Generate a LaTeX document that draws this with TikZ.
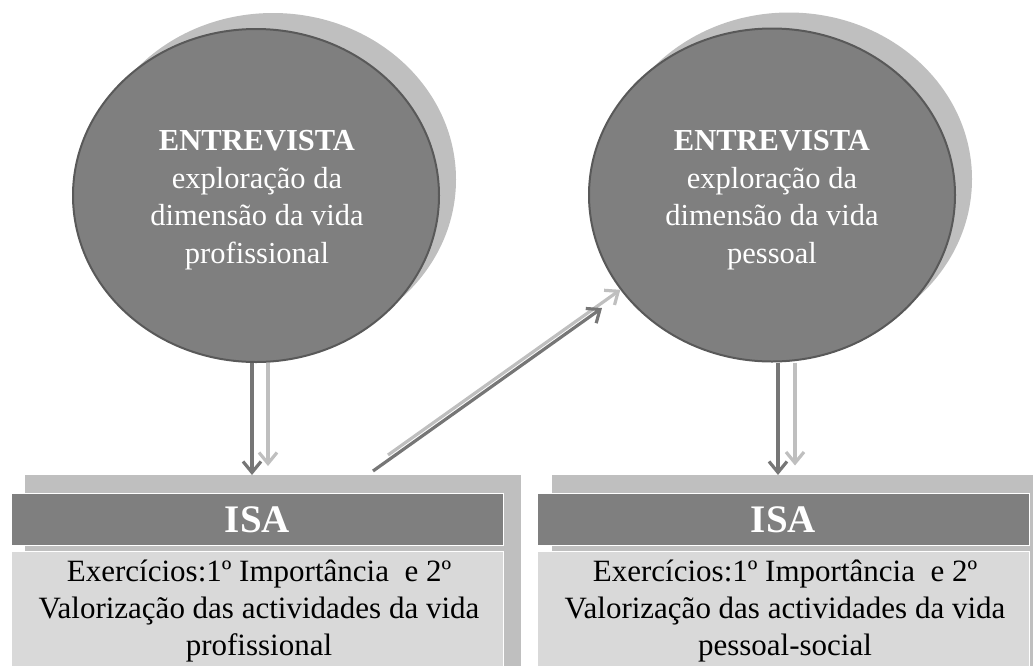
\documentclass[tikz,border=0pt]{standalone}
\usepackage{fontspec}
\setmainfont{Liberation Serif}
\usetikzlibrary{shapes.geometric,arrows.meta}
\definecolor{dk}{HTML}{7F7F7F}
\definecolor{dkline}{HTML}{595959}
\definecolor{sh}{HTML}{BFBFBF}
\definecolor{lt}{HTML}{D9D9D9}
\definecolor{arrdk}{HTML}{767676}
\begin{document}
\begin{tikzpicture}[x=1pt,y=-1pt,
  circsh/.style={ellipse, fill=sh, minimum width=366pt, minimum height=333pt, inner sep=0pt},
  circ/.style={ellipse, fill=dk, draw=dkline, line width=2pt, minimum width=366pt, minimum height=333pt, inner sep=0pt},
  circtxt/.style={text=white, align=center, inner sep=0pt, font=\fontsize{30.5}{37.5}\selectfont},
  boxsh/.style={rectangle, fill=sh, anchor=north west, minimum width=496pt, minimum height=200pt, inner sep=0pt},
  head/.style={rectangle, fill=dk, draw=white, line width=1pt, anchor=north west, minimum width=492pt,
    minimum height=52pt, inner sep=0pt, text=white, font=\fontsize{39}{42}\selectfont\bfseries},
  body/.style={rectangle, fill=lt, draw=white, line width=1pt, anchor=north west, minimum width=492pt,
    minimum height=130pt, inner sep=0pt},
  bodytxt/.style={align=center, inner sep=0pt, font=\fontsize{31}{37}\selectfont},
  darr/.style={draw=arrdk, line width=3.2pt, -{Straight Barb[length=11pt,width=18pt]}},
  larr/.style={draw=sh, line width=3.2pt, -{Straight Barb[length=11pt,width=18pt]}}
]
\useasboundingbox (0,0) rectangle (1033,665);
% ellipses
\node[circsh] (e1s) at (273,179.5) {};
\node[circ] (e1) at (256,195.5) {};
\node[circtxt] (c1) at (257,200) {\textbf{ENTREVISTA}\\explora\c{c}\~ao da\\dimens\~ao da vida\\profissional};
\node[circsh] (e2s) at (789,179) {};
\node[circ] (e2) at (772,195) {};
\node[circtxt] (c2) at (772,200) {\textbf{ENTREVISTA}\\explora\c{c}\~ao da\\dimens\~ao da vida\\pessoal};
% boxes
\node[boxsh] (s1) at (25,475) {};
\node[head] (h1) at (11,493) {ISA};
\node[body] (b1) at (11,551) {};
\node[bodytxt] (t1) at (259,611) {Exerc\'icios:1º Import\^ancia\ \ e 2º\\Valoriza\c{c}\~ao das actividades da vida\\profissional};
\node[boxsh] (s2) at (552,475) {};
\node[head] (h2) at (537,493) {ISA};
\node[body] (b2) at (537,551) {};
\node[bodytxt] (t2) at (785,611) {Exerc\'icios:1º Import\^ancia\ \ e 2º\\Valoriza\c{c}\~ao das actividades da vida\\pessoal-social};
% arrows
\draw[larr] ([xshift=12pt]e1.south) -- ++(0,103);
\draw[darr] ([xshift=-4pt]e1.south) -- ([xshift=-4pt]e1.south |- s1.north);
\draw[larr] ([xshift=23pt]e2.south) -- ++(0,103);
\draw[darr] ([xshift=6pt]e2.south) -- ([xshift=6pt]e2.south |- s2.north);
\coordinate (l1s) at (388,455);
\coordinate (d1s) at (373,471);
\coordinate (d1e) at (602,308);
\draw[larr] (l1s) -- (e2.212);
\draw[darr] (d1s) -- (d1e);
\end{tikzpicture}
\end{document}
